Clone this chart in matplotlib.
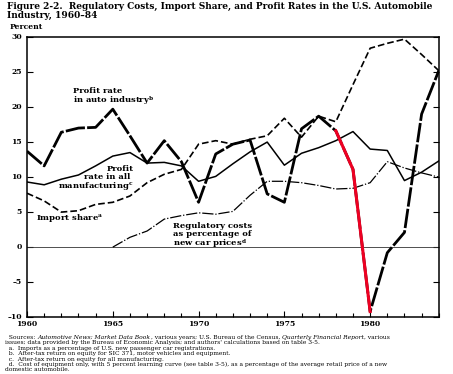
import numpy as np
import matplotlib
matplotlib.use('Agg')
import matplotlib.pyplot as plt
from matplotlib.ticker import MultipleLocator, FixedLocator

plt.rcParams['font.family'] = ['DejaVu Serif']
plt.rcParams['mathtext.fontset'] = 'dejavuserif'

years = list(range(1960, 1985))

# profit rate in auto industry (b)
auto_profit = [13.7, 11.6, 16.4, 17.0, 17.1, 19.7, 15.9, 12.0, 15.2, 12.2,
               6.4, 13.3, 14.7, 15.3, 7.6, 6.4, 16.9, 18.7, 16.6, 11.1,
               -9.2, -0.8, 2.1, 19.0, 25.2]
# profit rate in all manufacturing (c)
mfg_profit = [9.3, 8.9, 9.7, 10.3, 11.6, 13.0, 13.5, 12.0, 12.1, 11.6,
              9.4, 10.1, 11.9, 13.6, 15.0, 11.7, 13.4, 14.2, 15.2, 16.5,
              14.0, 13.8, 9.5, 10.7, 12.3]
# import share (a)
import_share = [7.7, 6.6, 5.0, 5.2, 6.1, 6.4, 7.3, 9.2, 10.4, 11.1,
                14.7, 15.2, 14.7, 15.4, 15.9, 18.4, 15.7, 18.7, 17.9, 23.2,
                28.4, 29.1, 29.7, 27.5, 25.2]
# regulatory costs as % of new car price (d), from 1965
reg_years = list(range(1965, 1985))
reg_costs = [0.0, 1.4, 2.3, 4.0, 4.5, 4.9, 4.7, 5.1, 7.4, 9.4,
             9.4, 9.2, 8.8, 8.3, 8.4, 9.2, 12.2, 11.3, 10.6, 10.0]
# highlighted drop
red_years = [1978, 1979, 1980]
red_vals = [16.6, 11.1, -9.2]

fig = plt.figure(figsize=(4.53, 3.74), dpi=100)
ax = fig.add_axes([0.0596, 0.152, 0.909, 0.749])

ax.axhline(0, color='#333333', linewidth=0.6)
ax.plot(years, auto_profit, color='black', linewidth=2.0,
        dashes=(7, 0.8), solid_capstyle='butt')
ax.plot(years, mfg_profit, color='black', linewidth=1.1)
ax.plot(years, import_share, color='black', linewidth=1.2, dashes=(4, 1.8))
ax.plot(reg_years, reg_costs, color='black', linewidth=0.9,
        dashes=(9, 1.5, 1, 1.5))
ax.plot(red_years, red_vals, color='#ee0022', linewidth=2.2)

ax.set_xlim(1960, 1984)
ax.set_ylim(-10, 30)
ax.xaxis.set_major_locator(FixedLocator([1960, 1965, 1970, 1975, 1980]))
ax.xaxis.set_minor_locator(MultipleLocator(1))
ax.yaxis.set_major_locator(MultipleLocator(5))
ax.tick_params(axis='x', which='both', direction='in', top=False, length=3,
               width=0.8, labelsize=5.5, pad=2)
ax.tick_params(axis='x', which='major', length=4)
ax.tick_params(axis='y', direction='in', left=True, right=True, length=4,
               width=0.8, labelleft=False)
for s in ax.spines.values():
    s.set_linewidth(1.1)
for lab in ax.get_xticklabels():
    lab.set_fontweight('bold')

# y tick labels with en dash
for v in range(-10, 31, 5):
    txt = str(v).replace('-', '\u2013')
    ax.text(-0.012, v, txt, transform=ax.get_yaxis_transform(), ha='right',
            va='center', fontsize=5.5, fontweight='bold')

fig.text(0.022, 0.922, 'Percent', fontsize=5.5, fontweight='bold')

fig.text(0.015, 0.995,
         'Figure 2-2.  Regulatory Costs, Import Share, and Profit Rates in the U.S. Automobile\nIndustry, 1960\u201384',
         fontsize=6.5, fontweight='bold', va='top', linespacing=1.0)

tk = dict(fontsize=6.0, fontweight='bold', transform=ax.transData)
ax.text(1962.7, 22.9, 'Profit rate\nin auto industry$^{\\mathbf{b}}$',
        va='top', linespacing=0.95, **tk)
ax.text(1966.2, 11.7, 'Profit\nrate in all \nmanufacturing$^{\\mathbf{c}}$',
        ha='right', va='top', multialignment='right', linespacing=0.9, **tk)
ax.text(1960.5, 4.1, 'Import share$^{\\mathbf{a}}$', va='center', **tk)
ax.text(1968.5, 3.6,
        'Regulatory costs\nas percentage of\nnew car prices$^{\\mathbf{d}}$',
        va='top', linespacing=0.95, **tk)

# first source line, mixed roman / italic pieces
source_parts = [
    ("  Sources: ", 'normal'),
    ("Automotive News; Market Data Book", 'italic'),
    (", various years; U.S. Bureau of the Census, ", 'normal'),
    ("Quarterly Financial Report", 'italic'),
    (", various", 'normal'),
]
notes = [
    "issues; data provided by the Bureau of Economic Analysis; and authors' calculations based on table 3-5.",
    "  a.  Imports as a percentage of U.S. new passenger car registrations.",
    "  b.  After-tax return on equity for SIC 371, motor vehicles and equipment.",
    "  c.  After-tax return on equity for all manufacturing.",
    "  d.  Cost of equipment only, with 5 percent learning curve (see table 3-5), as a percentage of the average retail price of a new",
    "domestic automobile.",
]
renderer = fig.canvas.get_renderer()
xpix = 0.012 * 453
ypix = 337.5
for txt, style in source_parts:
    t = fig.text(xpix / 453, 1 - ypix / 374, txt, fontsize=4.3,
                 fontstyle=style, va='center')
    xpix += t.get_window_extent(renderer).width
for i, line in enumerate(notes):
    ypix = 337.5 + (i + 1) * 5.4
    fig.text(0.012, 1 - ypix / 374, line, fontsize=4.3, va='center')

fig.savefig('out.png', dpi=100)
